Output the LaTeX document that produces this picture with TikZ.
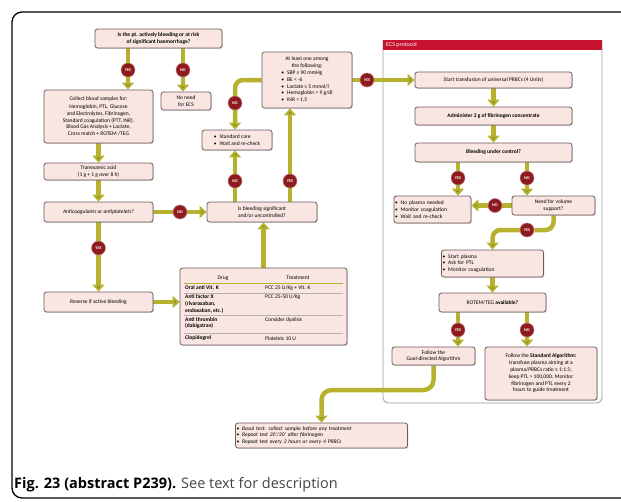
\documentclass[tikz,border=0pt]{standalone}
\usepackage{fontspec}
\setmainfont{Carlito}
\newfontfamily\capfont{Open Sans}
\usetikzlibrary{arrows.meta,shadows}
\definecolor{boxfill}{HTML}{F9E6E2}
\definecolor{boxline}{HTML}{6E5A5A}
\definecolor{flowcol}{HTML}{B7B22E}
\definecolor{headcol}{HTML}{8A962A}
\definecolor{decred}{HTML}{8E1A1E}
\definecolor{ecsred}{HTML}{C4122F}
\definecolor{panelline}{HTML}{9A9A9A}
\definecolor{capgray}{HTML}{444444}
\newcommand{\diag}{\fontsize{5.5}{6.8}\selectfont}
\newcommand{\bul}{\textbullet\hspace{3pt}}
\pgfdeclarelayer{bg}
\pgfsetlayers{bg,main}
\tikzset{
  box/.style={draw=boxline, fill=boxfill, line width=0.8pt, rounded corners=2.5pt, align=center, font=\diag, inner sep=1pt,
    drop shadow={shadow xshift=0.8pt, shadow yshift=-0.8pt, opacity=0.35}},
  dec/.style={circle, fill=decred, draw=decred!55, line width=0.5pt, text=white, font=\fontsize{4.2}{5}\selectfont\bfseries, minimum size=14pt, inner sep=0pt},
  flow/.style={line width=4.5pt, draw=flowcol, -{Triangle[width=12pt,length=7pt,fill=headcol]}},
  cell/.style={font=\diag, inner sep=0pt, align=left},
}

\begin{document}
\begin{tikzpicture}[x=1pt, y=-1pt]
\useasboundingbox (0,0) rectangle (621,501);

% left column
\node[box, font=\diag\bfseries, minimum width=127pt, minimum height=19pt] (q1) at (158.5,38.5) {Is the pt. actively bleeding or at risk\\of significant haemorrhage?};
\node[box, minimum width=109pt, minimum height=53pt] (col) at (98.5,116.5) {Collect blood samples for:\\[1pt] Hemoglobin, PTL, Glucose\\and Electrolytes, Fibrinogen,\\Standard coagulation (PTT, INR),\\Blood Gas Analysis + Lactate,\\Cross match + ROTEM /TEG};
\node[box, minimum width=50pt, minimum height=18pt] (nn) at (186,101) {No need\\for ECS};
\node[box, minimum width=109pt, minimum height=17pt] (tra) at (98.5,171.5) {Tranexamic acid\\(1 g + 1 g over 8 h)};
\node[box, font=\diag\itshape, minimum width=109pt, minimum height=20pt] (ant) at (98.5,212) {Anticoagulants or antiplatelets?};
\node[box, minimum width=109pt, minimum height=20pt] (rev) at (98.5,302) {Reverse if active bleeding};

% middle column
\node[box, minimum width=110pt, minimum height=20pt] (sig) at (262,212) {Is bleeding significant\\and/or uncontrolled?};
\node[box, align=left, minimum width=70pt, minimum height=20pt] (std) at (237,140) {\bul Standard care\\\bul Wait and re-check};
\node[box, minimum width=90pt, minimum height=56pt] (atl) at (307,80) {\begin{tabular}{@{}l@{}}
  \multicolumn{1}{@{}c@{}}{At least one among}\\
  \multicolumn{1}{@{}c@{}}{the following:}\\
  \bul SBP ≤ 90 mmHg\\
  \bul BE < -6\\
  \bul Lactate ≥ 5 mmol/l\\
  \bul Hemoglobin < 9 g/dl\\
  \bul INR > 1.5
\end{tabular}};

% drug table
\node[box, minimum width=167pt, minimum height=77pt] (drug) at (263.5,306.5) {};
\node[cell] (dh1) at (223,278) {Drug};
\node[cell] (dh2) at (298,278) {Treatment};
\node[cell, font=\diag\bfseries, anchor=west] (d1) at (185,288) {Oral anti Vit. K};
\node[cell, anchor=west] (t1) at (265,288) {PCC 25 U/Kg + Vit. K};
\node[cell, font=\diag\bfseries, anchor=north west] (d2) at (185,294.5) {Anti factor X\\(rivaroxaban,\\endoxaban, etc.)};
\node[cell, anchor=north west] (t2) at (265,294.5) {PCC 25-50 U/Kg};
\node[cell, font=\diag\bfseries, anchor=north west] (d3) at (185,317) {Anti thrombin\\(dabigatran)};
\node[cell, anchor=north west] (t3) at (265,317) {Consider dyalisis};
\node[cell, font=\diag\bfseries, anchor=west] (d4) at (185,338.5) {Clopidogrel};
\node[cell, anchor=west] (t4) at (265,338.5) {Platelets 10 U};
\draw[flowcol, line width=0.8pt] (184,283) -- (343,283);
\draw[gray!60, line width=0.5pt] (184,293) -- (343,293) (184,315.5) -- (343,315.5) (184,333) -- (343,333);

% ECS protocol
\node[box, minimum width=157pt, minimum height=16pt] (sta) at (493.5,80) {Start transfusion of universal PRBCs (4 Units)};
\node[box, font=\diag\bfseries, minimum width=157pt, minimum height=18pt] (adm) at (493.5,116) {Administer 2 g of fibrinogen concentrate};
\node[box, font=\diag\bfseries, minimum width=157pt, minimum height=19pt] (ctl) at (493.5,152.5) {Bleeding under control?};
\node[box, align=left, text width=75pt, minimum height=27pt] (npl) at (432.5,209.5) {\bul No plasma needed\\\bul Monitor coagulation\\\bul Wait and re-check};
\node[box, minimum width=83pt, minimum height=19pt] (vol) at (553.5,205.5) {Need for volume\\support?};
\node[box, align=left, text width=100pt, minimum height=27pt] (pla) at (492.5,263.5) {\bul Start plasma\\\bul Ask for PTL\\\bul Monitor coagulation};
\node[box, minimum width=107pt, minimum height=19pt] (rot) at (492.5,302.5) {ROTEM/TEG \textbf{available?}};
\node[box, minimum width=83pt, minimum height=18pt] (goal) at (433.5,356) {Follow the\\Goal-directed Algorithm};
\node[box, minimum width=112pt, minimum height=53pt] (salg) at (541,373.5) {Follow the \textbf{Standard Algorithm:}\\transfuse plasma aiming at a\\plasma/PRBCs ratio ≥ 1:1.5;\\keep PTL > 100,000. Monitor\\fibrinogen and PTL every 2\\hours to guide treatment};
\node[box, font=\diag\itshape, align=left, text width=170pt, minimum height=25pt] (mon) at (321.5,435.5) {\bul Basal test: collect sample before any treatment\\\bul Repeat test 20'/30' after fibrinogen\\\bul Repeat test every 2 hours or every 4 PRBCs};

% YES / NO
\node[dec] (y1) at (128,70) {YES};
\node[dec] (n1) at (183,70) {NO};
\node[dec] (n2) at (180,212) {NO};
\node[dec] (y2) at (98.5,248) {YES};
\node[dec] (n3) at (235,181) {NO};
\node[dec] (y3) at (290,181) {YES};
\node[dec] (n4) at (235,103) {NO};
\node[dec] (y4) at (367,80) {YES};
\node[dec] (y5) at (458,178) {YES};
\node[dec] (n5) at (527,178) {NO};
\node[dec] (n6) at (495,205.5) {NO};
\node[dec] (y6) at (527,230) {YES};
\node[dec] (y7) at (458,330) {YES};
\node[dec] (n7) at (527,330) {NO};
\coordinate (bend) at (321.5,390);

% caption
\node[anchor=base west, inner sep=0pt, font=\capfont\fontsize{14.5}{16}\selectfont] (cap) at (14,488)
  {\textbf{Fig. 23 (abstract P239).} \textcolor{capgray}{See text for description}};

\begin{pgfonlayer}{bg}
  % frame and panel
  \draw[line width=1.3pt, rounded corners=10pt] (650,12) -- (12,12) -- (12,498) -- (650,498);
  \draw[panelline, line width=0.8pt, rounded corners=5pt] (383,40) -- (383,403) -- (602,403) -- (602,40);
  \fill[ecsred] (383,40) rectangle (602,50);
  \node[anchor=west, inner sep=0pt, text=white, font=\fontsize{6}{7}\selectfont] (ecs) at (386,45) {ECS protocol};

  % connectors
  \draw[flow] (q1.south -| y1) -- (col.north -| y1);
  \draw[flow] (q1.south -| n1) -- (nn.north -| n1);
  \draw[flow] (col.south) -- (tra.north);
  \draw[flow] (tra.south) -- (ant.north);
  \draw[flow] (ant.east) -- (sig.west);
  \draw[flow] (ant.south) -- (rev.north);
  \draw[flow] (rev.east) -- (drug.west |- rev.east);
  \draw[flow] (drug.north) -- (sig.south -| drug.north);
  \draw[flow] (sig.north -| n3) -- (std.south -| n3);
  \draw[flow] (sig.north -| y3) -- (atl.south -| y3);
  \draw[flow, rounded corners=8pt] (atl.west) -| (std.north -| n4);
  \draw[flow] (atl.east) -- (sta.west);
  \draw[flow] (sta.south) -- (adm.north);
  \draw[flow] (adm.south) -- (ctl.north);
  \draw[flow] (ctl.south -| y5) -- (npl.north -| y5);
  \draw[flow] (ctl.south -| n5) -- (vol.north -| n5);
  \draw[flow] (vol.west) -- (npl.east |- vol.west);
  \draw[flow, rounded corners=8pt] (vol.south) |- (y6) -| (pla.north);
  \draw[flow] (pla.south) -- (rot.north);
  \draw[flow] (rot.south -| y7) -- (goal.north -| y7);
  \draw[flow] (rot.south -| n7) -- (salg.north -| n7);
  \draw[flow, rounded corners=10pt] (goal.south) |- (bend) -- (mon.north);
\end{pgfonlayer}
\end{tikzpicture}
\end{document}
